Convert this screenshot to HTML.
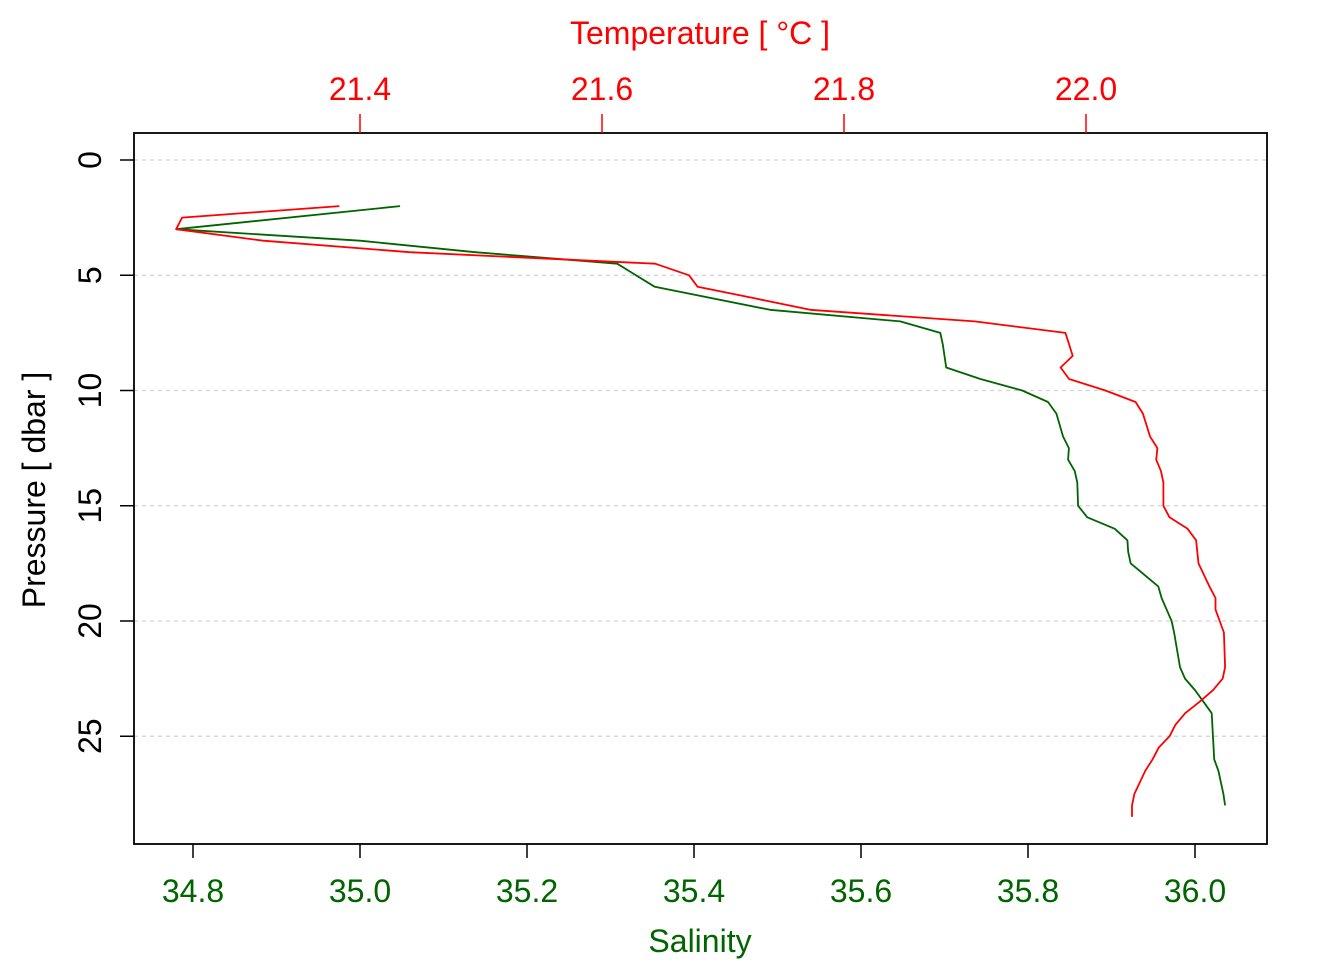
<!DOCTYPE html>
<html><head><meta charset="utf-8"><style>
body{margin:0;background:#fff;}
svg text{font-family:"Liberation Sans",sans-serif;}
</style></head><body>
<svg id="chart" width="1344" height="960" xmlns="http://www.w3.org/2000/svg"></svg>
<script>
const pressureTicks=[0,5,10,15,20,25];
const salinityTicks=[34.8,35.0,35.2,35.4,35.6,35.8,36.0];
const temperatureTicks=[21.4,21.6,21.8,22.0];
const salPressure=[2,3,3.5,4,4.5,5.5,6.5,7,7.5,8,9,9.5,10,10.5,11,12,12.5,13,13.5,14,15,15.5,16,16.5,17,17.5,18.5,19,20,20.5,22,22.5,23,23.5,24,26,26.5,27.5,28];
const salinity=[35.048,34.780,35.000,35.138,35.308,35.353,35.491,35.647,35.695,35.698,35.702,35.743,35.793,35.824,35.834,35.842,35.849,35.848,35.856,35.859,35.860,35.871,35.904,35.919,35.920,35.923,35.956,35.960,35.972,35.975,35.982,35.988,36.000,36.010,36.020,36.023,36.028,36.034,36.036];
const tempPressure=[2,2.5,3,3.5,4,4.5,5,5.5,6,6.5,7,7.5,8,8.5,9,9.5,10,10.5,11,12,12.5,13,13.5,14,15,15.5,16,16.5,17,17.5,18.5,19,19.5,20.5,22,22.5,23,23.5,24,24.5,25,25.5,26,26.5,27.5,28,28.5];
const temperature=[21.383,21.253,21.248,21.320,21.441,21.644,21.672,21.679,21.726,21.772,21.908,21.983,21.986,21.989,21.979,21.986,22.016,22.041,22.047,22.053,22.059,22.058,22.062,22.064,22.064,22.069,22.084,22.091,22.092,22.093,22.102,22.107,22.107,22.114,22.115,22.113,22.105,22.094,22.082,22.074,22.069,22.060,22.055,22.049,22.040,22.038,22.038];

const svg=document.getElementById('chart');
const NS='http://www.w3.org/2000/svg';
const L=134,R=1267,T=133,B=844;
const FS=32;
const yP=p=>160+p*23.05;
const xS=s=>193+(s-34.8)*835;
const xT=t=>360+(t-21.4)*1210;
function mk(tag,attrs,parent){const e=document.createElementNS(NS,tag);for(const k in attrs)e.setAttribute(k,attrs[k]);(parent||svg).appendChild(e);return e;}

const grid=mk('g',{});


pressureTicks.forEach(p=>{
  const l=mk('line',{x1:L,x2:R,y1:yP(p),y2:yP(p),stroke:'#d3d3d3','stroke-width':1.3,'stroke-dasharray':'4,4'},grid);
  
  
});

function series(xs,ps,fx,color,name){
  const d=xs.map((v,i)=>(i?'L':'M')+fx(v).toFixed(1)+','+yP(ps[i]).toFixed(1)).join('');
  const e=mk('path',{d:d,fill:'none',stroke:color,'stroke-width':1.8,'stroke-linejoin':'round'});
  
  
}
series(salinity,salPressure,xS,'#006400','salinity-line');
series(temperature,tempPressure,xT,'#ff0000','temperature-line');

const box=mk('rect',{x:L,y:T,width:R-L,height:B-T,fill:'none',stroke:'#000','stroke-width':1.8});



pressureTicks.forEach(p=>{
  mk('line',{x1:L-14,x2:L,y1:yP(p),y2:yP(p),stroke:'#000','stroke-width':1.5});
  const t=mk('text',{x:0,y:0,transform:`translate(101,${yP(p)}) rotate(-90)`,'text-anchor':'middle','font-size':FS,fill:'#000'});
  t.textContent=p;
  
  
});
salinityTicks.forEach(s=>{
  mk('line',{x1:xS(s),x2:xS(s),y1:B,y2:B+14,stroke:'#000','stroke-width':1.5});
  const t=mk('text',{x:xS(s),y:902,'text-anchor':'middle','font-size':FS,fill:'#006400'});
  t.textContent=s.toFixed(1);
  
  
});
temperatureTicks.forEach(v=>{
  mk('line',{x1:xT(v),x2:xT(v),y1:T,y2:T-19,stroke:'#ff0000','stroke-width':1.5});
  const t=mk('text',{x:xT(v),y:100,'text-anchor':'middle','font-size':FS,fill:'#ff0000'});
  t.textContent=v.toFixed(1);
  
  
});
let t=mk('text',{x:700,y:952,'text-anchor':'middle','font-size':FS,fill:'#006400'});t.textContent='Salinity';


t=mk('text',{x:700,y:44,'text-anchor':'middle','font-size':FS,fill:'#ff0000'});t.textContent='Temperature [ °C ]';


t=mk('text',{x:0,y:0,transform:'translate(45,490) rotate(-90)','text-anchor':'middle','font-size':FS,fill:'#000'});t.textContent='Pressure [ dbar ]';


</script>
</body></html>
